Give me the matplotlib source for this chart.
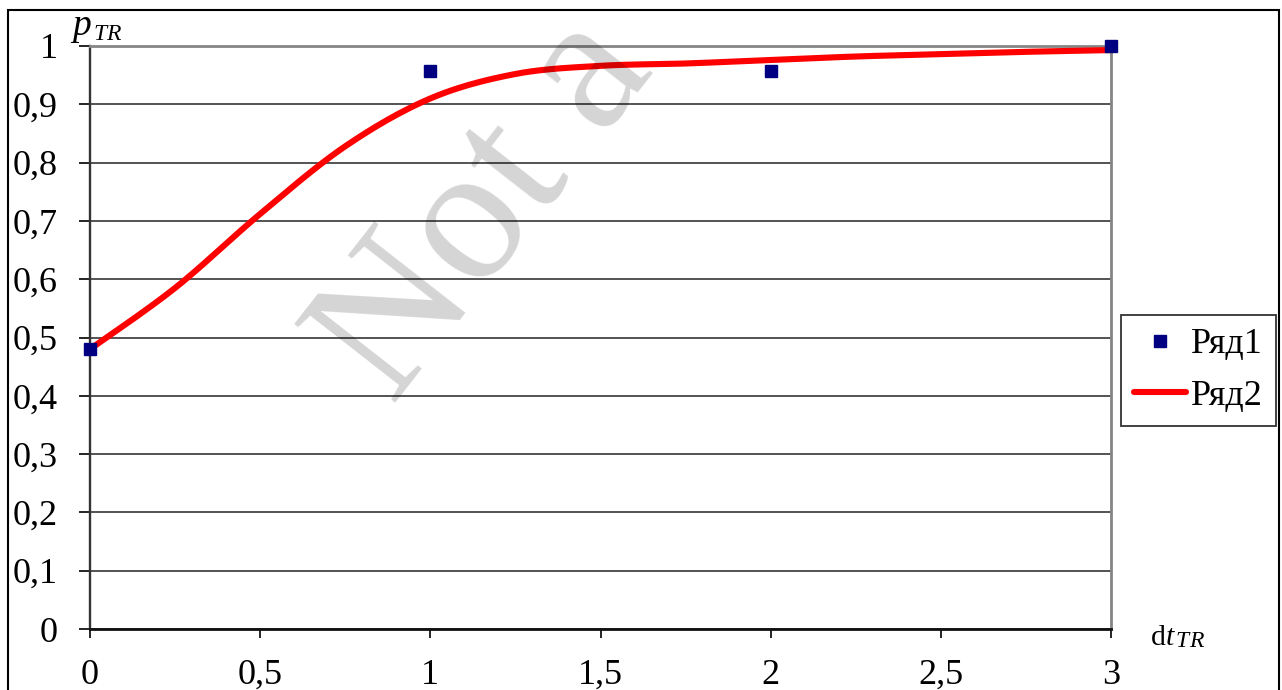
import numpy as np
import matplotlib
matplotlib.use("Agg")
import matplotlib.pyplot as plt
from matplotlib.patches import Rectangle
from matplotlib.ticker import FuncFormatter

plt.rcParams['font.family'] = ['Liberation Serif', 'DejaVu Serif']

# ---- data ----
s1_x = [0, 1, 2, 3]
s1_y = [0.48, 0.957, 0.957, 1.0]

s2_x = [0, 0.25, 0.5, 0.75, 1.0, 1.25, 1.5, 1.75, 2.0, 2.25, 2.5, 2.75, 3.0]
s2_y = [0.480, 0.585, 0.712, 0.828, 0.910, 0.952, 0.966, 0.970, 0.976, 0.982, 0.986, 0.990, 0.993]

series_names = ["Ряд1", "Ряд2"]
x_ticks = [0, 0.5, 1, 1.5, 2, 2.5, 3]
y_ticks = [0, 0.1, 0.2, 0.3, 0.4, 0.5, 0.6, 0.7, 0.8, 0.9, 1.0]


def smooth(x, y, n=24):
    pts = np.column_stack([x, y]).astype(float)
    P = np.vstack([pts[0], pts, pts[-1]])
    out = []
    t = np.linspace(0, 1, n, endpoint=False)[:, None]
    for i in range(1, len(P) - 2):
        p0, p1, p2, p3 = P[i - 1], P[i], P[i + 1], P[i + 2]
        seg = 0.5 * ((2 * p1) + (-p0 + p2) * t + (2 * p0 - 5 * p1 + 4 * p2 - p3) * t ** 2
                     + (-p0 + 3 * p1 - 3 * p2 + p3) * t ** 3)
        out.append(seg)
    out.append(pts[-1][None])
    a = np.vstack(out)
    return a[:, 0], a[:, 1]


W, H = 1282, 690
fig = plt.figure(figsize=(W / 100, H / 100), dpi=100)
L, R, T, B = 90, 1111, 46, 629
ax = fig.add_axes([L / W, 1 - B / H, (R - L) / W, (B - T) / H])

ax.set_xlim(0, 3)
ax.set_ylim(0, 1)
ax.set_xticks(x_ticks)
ax.set_yticks(y_ticks)
fmt = FuncFormatter(lambda v, p: ("%g" % v).replace(".", ","))
ax.xaxis.set_major_formatter(fmt)
ax.yaxis.set_major_formatter(fmt)

ax.grid(axis='y', color='#454545', lw=1.3, zorder=0)
ax.set_axisbelow(True)

for s in ['top', 'right']:
    ax.spines[s].set_color('#858585')
    ax.spines[s].set_linewidth(2.0)
ax.spines['left'].set_color('#333333')
ax.spines['left'].set_linewidth(1.7)
ax.spines['bottom'].set_color('#111111')
ax.spines['bottom'].set_linewidth(2.0)

ax.tick_params(axis='y', direction='out', length=8, width=1.2, pad=15,
               labelsize=26, colors='black')
ax.tick_params(axis='x', direction='out', length=6.5, width=1.2, pad=15,
               labelsize=26, colors='black')

sx, sy = smooth(s2_x, s2_y)
ax.plot(sx, sy, color='#ff0000', lw=4.4, solid_capstyle='butt', zorder=3,
        label=series_names[1], clip_on=False)
ax.plot(s1_x, s1_y, linestyle='none', marker='s', ms=9.3, color='#000080',
        mec='#000080', zorder=4, label=series_names[0], clip_on=False)

h, l = ax.get_legend_handles_labels()
leg = fig.legend([h[1], h[0]], [l[1], l[0]], loc='upper left',
                 bbox_to_anchor=(1121 / W, 1 - 315 / H), borderaxespad=0,
                 fontsize=26, frameon=True, fancybox=False, edgecolor='black',
                 borderpad=0.36, labelspacing=0.5, handlelength=1.45,
                 handletextpad=0.12, markerscale=0.9)
leg.get_frame().set_linewidth(1.3)
for line in leg.get_lines():
    line.set_solid_capstyle('round')

# axis titles
fig.text(72 / W, 1 - 35 / H, "p", fontsize=27, style='italic', ha='left', va='baseline')
fig.text(93 / W, 1 - 40 / H, "T", fontsize=17, style='italic', ha='left', va='baseline')
fig.text(106 / W, 1 - 40 / H, "R", fontsize=17, style='italic', ha='left', va='baseline')
fig.text(1151 / W, 1 - 645 / H, "d", fontsize=21.5, ha='left', va='baseline')
fig.text(1166 / W, 1 - 645 / H, "t", fontsize=21.5, style='italic', ha='left', va='baseline')
fig.text(1175 / W, 1 - 647 / H, "T", fontsize=17, style='italic', ha='left', va='baseline')
fig.text(1189 / W, 1 - 647 / H, "R", fontsize=17, style='italic', ha='left', va='baseline')

# watermark
fig.text(392 / W, 1 - 407 / H, "Not a", rotation=52, rotation_mode='anchor',
         ha='left', va='baseline', fontsize=140, color='black', alpha=0.17,
         family='Liberation Serif', zorder=10)

# outer frame
fig.add_artist(Rectangle((8 / W, -0.1), (1279 - 8) / W, (1 - 10 / H) + 0.1,
                         transform=fig.transFigure, fill=False, ec='black', lw=1.5))

fig.savefig("out.png", dpi=100)
